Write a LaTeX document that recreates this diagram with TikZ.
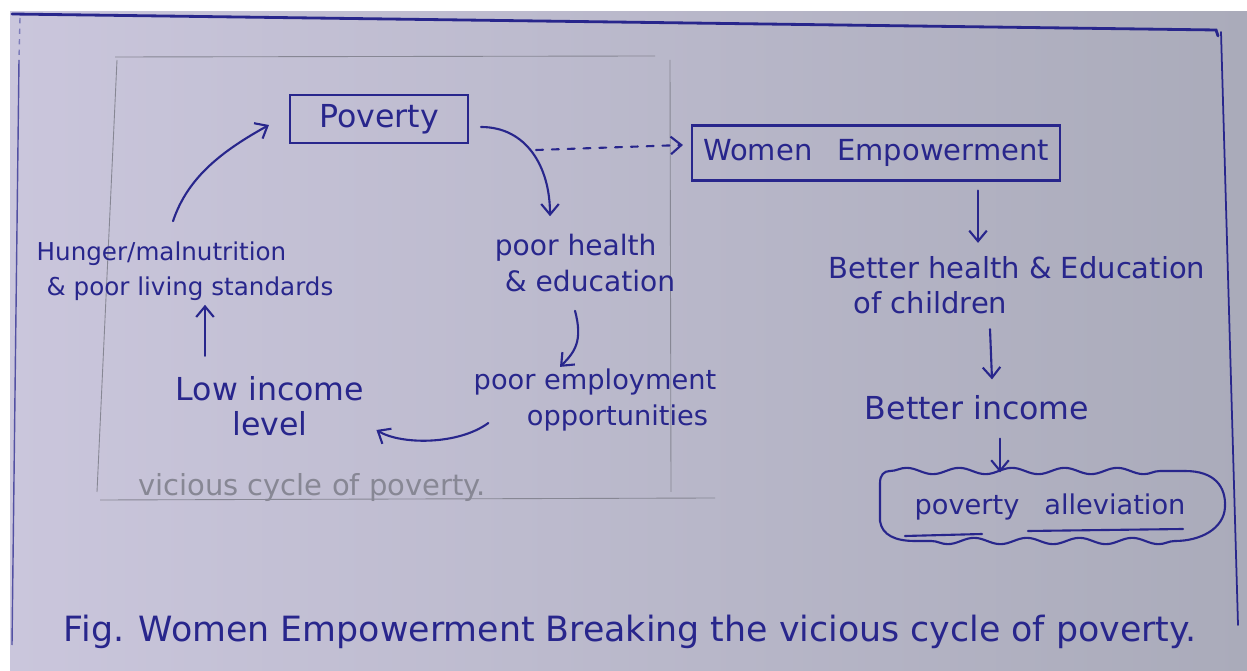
\documentclass[tikz,border=0pt]{standalone}
\usepackage{fontspec}
\setmainfont{DejaVu Sans}
\usetikzlibrary{arrows.meta,decorations.pathmorphing,calc}
\definecolor{ink}{RGB}{40,38,140}
\definecolor{pencil}{RGB}{135,135,148}
\definecolor{paperL}{RGB}{202,198,220}
\definecolor{paperR}{RGB}{170,171,186}
\newcommand\fsz[2]{\fontsize{#1}{#2}\selectfont}
\begin{document}
\begin{tikzpicture}[x=0.02cm,y=-0.02cm,
  txt/.style={text=ink, inner sep=0pt},
  box/.style={draw=ink, line width=1.2pt, text=ink, inner sep=0pt},
  arr/.style={draw=ink, line width=1.2pt, line cap=round, -{Straight Barb[length=6pt,width=10pt,line width=1.2pt]}},
  pen/.style={draw=ink, line width=1.2pt, line cap=round},
  wavy/.style={pen, decorate, decoration={snake, amplitude=1.8pt, segment length=30pt}},
  pencilline/.style={draw=pencil, line width=0.5pt}]
\useasboundingbox (0,0) rectangle (1247,671);
\fill[white] (0,0) rectangle (1247,671);
\shade[left color=paperL, right color=paperR] (10,12) rectangle (1247,671);
% page frame
\draw[pen, line width=1.6pt] (12,14) -- (1216,30) -- (1218,36);
\draw[pen, line width=1pt] (1221,32) -- (1238,625);
\draw[ink!60, line width=0.8pt, dashed] (20,18) -- (19,60);
\draw[ink!80, line width=0.8pt] (19,60) -- (12,645);
% pencil frame
\draw[pencilline] (115,57) -- (655,56);
\draw[pencilline] (117,60) -- (97,492);
\draw[pencilline] (670,60) -- (671,492);
\draw[pencilline] (100,500) -- (715,498);
\node[text=pencil, inner sep=0pt, font=\fsz{16.5}{18}] (vicious) at (312,488) {vicious cycle of poverty.};

% nodes of the cycle
\node[box, minimum width=3.56cm, minimum height=0.96cm, font=\fsz{18}{20}] (poverty) at (379,119) {Poverty};
\node[txt, align=left, font=\fsz{14}{20}] (hunger) at (185,271) {Hunger/malnutrition\\\hspace*{0.2cm}\& poor living standards};
\node[txt, align=left, font=\fsz{16}{20}] (health) at (585,263) {poor health\\\hspace*{0.2cm}\& education};
\node[txt, align=center, font=\fsz{15.5}{20}] (employ) at (595,400) {poor employment\\\hspace*{0.9cm}opportunities};
\node[txt, align=center, font=\fsz{18}{20}] (lowinc) at (270,406) {Low income\\level};

% right branch
\node[box, minimum width=7.36cm, minimum height=1.1cm, font=\fsz{16.5}{20}] (women) at (876,153) {Women\hspace{0.5cm}Empowerment};
\node[txt, align=left, font=\fsz{16.5}{20}] (bhealth) at (1017,285) {Better health \& Education\\\hspace*{0.5cm}of children};
\node[txt, font=\fsz{18}{20}] (bincome) at (977,408) {Better income};
\node[txt, minimum width=6.9cm, minimum height=1.45cm, font=\fsz{15.5}{20}] (allev) at (1050,507) {poverty\hspace{0.5cm}alleviation};
\begin{scope}[shift={(allev.center)}]
\draw[wavy] (-160,-36) -- (135,-36);
\draw[pen] (135,-36) .. controls (165,-36) and (176,-20) .. (175,0)
  .. controls (174,22) and (150,34) .. (125,34);
\draw[wavy] (125,34) -- (-135,34);
\draw[pen] (-135,34) .. controls (-155,34) and (-168,28) .. (-170,14)
  -- (-170,-24) .. controls (-170,-32) and (-166,-36) .. (-160,-36);
\draw[pen] (-145,29) -- (-68,27);
\draw[pen] (-22,24) -- (133,22);
\end{scope}

% caption
\node[txt, font=\fsz{19.8}{22}] (caption) at (630,632) {Fig. Women Empowerment Breaking the vicious cycle of poverty.};

% connectors
\draw[arr] ($(hunger.north)+(-12,-20)$) .. controls +(15,-45) and +(-45,25) .. ($(poverty.west)+(-20,6)$);
\draw[arr] ($(poverty.east)+(12,8)$) .. controls +(45,0) and +(0,-50) .. ($(health.north)+(-35,-18)$);
\draw[arr, dash pattern=on 4pt off 5pt] ($(poverty.east)+(67,31)$) -- ($(women.west)+(-8,-8)$);
\draw[arr] ($(health.south)+(-10,19)$) .. controls +(8,30) and +(15,-15) .. ($(employ.north)+(-35,-2)$);
\draw[arr] ($(employ.west)+(15,23)$) .. controls +(-30,22) and +(25,15) .. ($(lowinc.east)+(12,24)$);
\draw[arr] ($(lowinc.north)+(-65,-20)$) -- ($(hunger.south)+(20,4)$);
\draw[arr] ($(women.south)+(102,9)$) -- ($(bhealth.north)+(-39,-13)$);
\draw[arr] ($(bhealth.south)+(-27,15)$) -- ($(bincome.north)+(15,-16)$);
\draw[arr] ($(bincome.south)+(23,18)$) -- ($(allev.north)+(-50,2)$);
\end{tikzpicture}
\end{document}
